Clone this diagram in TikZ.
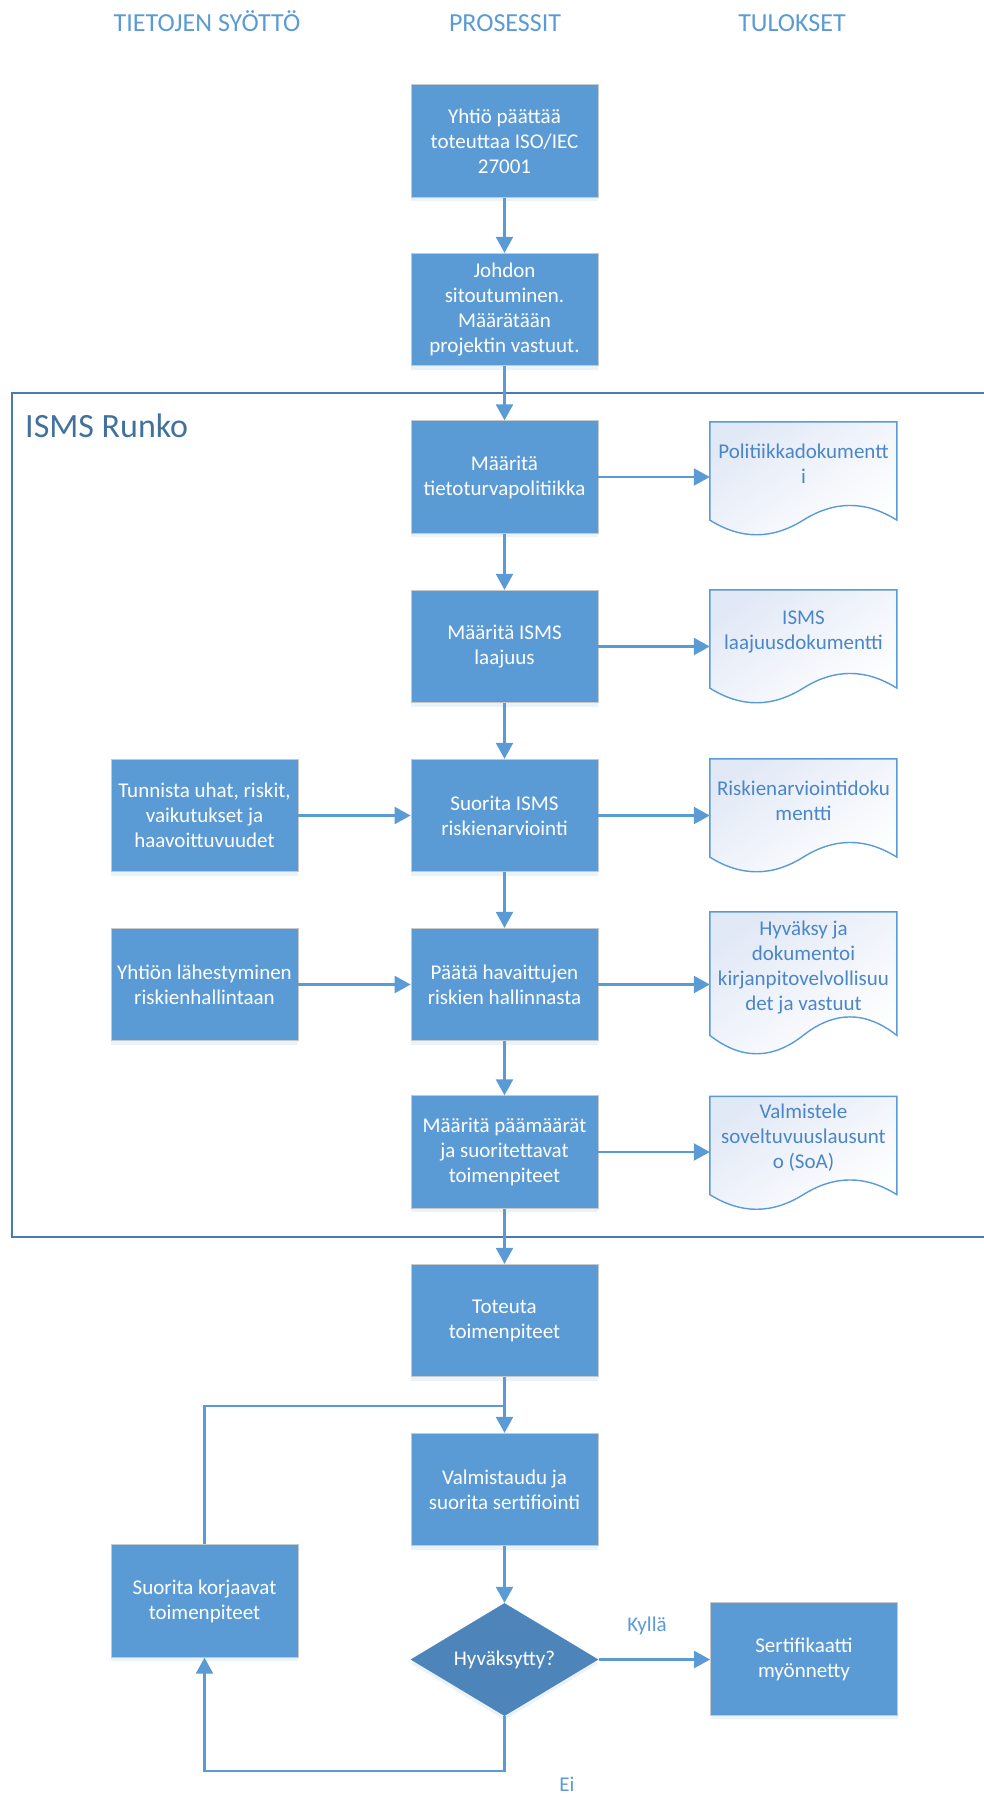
\documentclass[tikz,border=0pt]{standalone}
\usepackage{fontspec}
\setmainfont{Carlito}
\usetikzlibrary{arrows.meta,shapes.geometric,shadows,calc}
\definecolor{boxc}{HTML}{5B9BD5}
\definecolor{diac}{HTML}{4D85BB}
\definecolor{arrc}{HTML}{5B9BD5}
\definecolor{framec}{HTML}{4A7BB0}
\definecolor{runkoc}{HTML}{41719C}
\definecolor{headc}{HTML}{5B9BD5}
\definecolor{doctxt}{HTML}{4A86C8}
\definecolor{doctop}{HTML}{E2E9F6}
\definecolor{edgec}{HTML}{C8C8C8}
\newcommand\docpath[2]{%
  \path[docline] (#1.north west) -- ++(187,0) -- ++(0,{0.87*#2})
    .. controls +({-0.167*187},{-0.173*#2}) and +({0.167*187},{-0.173*#2}) .. ++({-0.5*187},0)
    .. controls +({-0.167*187},{0.173*#2}) and +({0.167*187},{0.173*#2}) .. ++({-0.5*187},0)
    -- cycle;}
\begin{document}
\begin{tikzpicture}[x=1pt,y=-1pt,
  procbox/.style={rectangle, fill=boxc, draw=edgec, line width=0.8pt,
    minimum width=187pt, minimum height=112.5pt, inner sep=0pt, text=white,
    align=center, font=\fontsize{21}{25}\selectfont,
    drop shadow={shadow xshift=0pt, shadow yshift=-4pt, opacity=0.12, fill=boxc}},
  decision/.style={diamond, fill=diac, aspect=1.664, minimum width=188pt,
    minimum height=113pt, inner sep=0pt, text=white, font=\fontsize{21}{25}\selectfont,
    drop shadow={shadow xshift=0pt, shadow yshift=-4pt, opacity=0.12, fill=boxc}},
  docbox/.style={rectangle, draw=none, minimum width=187pt, inner sep=0pt},
  docline/.style={draw=arrc, line width=1.4pt, top color=doctop, bottom color=white, shading angle=35},
  doctext/.style={text=doctxt, align=center, inner sep=0pt, font=\fontsize{21}{25}\selectfont},
  head/.style={text=headc, anchor=base, inner sep=0pt, font=\fontsize{26}{30}\selectfont},
  lbl/.style={text=arrc, inner sep=0pt, font=\fontsize{21}{25}\selectfont},
  conn/.style={draw=arrc, line width=2.3pt},
  arr/.style={conn, -{Triangle[length=16pt,width=17pt]}}
]
\useasboundingbox (0,0) rectangle (984,1795);

% headers
\node[head] (h1) at (207,32) {TIETOJEN SYÖTTÖ};
\node[head] (h2) at (505,32) {PROSESSIT};
\node[head] (h3) at (792,32) {TULOKSET};

% ISMS frame
\draw[framec, line width=2pt] (1010,393) -- (12,393) -- (12,1237) -- (1010,1237);
\node[anchor=base west, inner sep=0pt, text=runkoc, font=\fontsize{34}{40}\selectfont] (rk) at (25,437) {ISMS Runko};

% process column
\node[procbox] (b1) at (504.5,141) {Yhtiö päättää\\toteuttaa ISO/IEC\\27001};
\node[procbox] (b2) at (504.5,309.5) {Johdon\\sitoutuminen.\\Määrätään\\projektin vastuut.};
\node[procbox] (b3) at (504.5,477) {Määritä\\tietoturvapolitiikka};
\node[procbox] (b4) at (504.5,646.5) {Määritä ISMS\\laajuus};
\node[procbox] (b5) at (504.5,815.5) {Suorita ISMS\\riskienarviointi};
\node[procbox] (b6) at (504.5,984.5) {Päätä havaittujen\\riskien hallinnasta};
\node[procbox] (b7) at (504.5,1152) {Määritä päämäärät\\ja suoritettavat\\toimenpiteet};
\node[procbox] (b8) at (504.5,1320.5) {Toteuta\\toimenpiteet};
\node[procbox] (b9) at (504.5,1489.5) {Valmistaudu ja\\suorita sertifiointi};
\node[decision] (dia) at (504.5,1659.5) {Hyväksytty?};
\node[procbox] (cert) at (804,1659) {Sertifikaatti\\myönnetty};

% input column
\node[procbox] (l1) at (204.5,815.5) {Tunnista uhat, riskit,\\vaikutukset ja\\haavoittuvuudet};
\node[procbox] (l2) at (204.5,984.5) {Yhtiön lähestyminen\\riskienhallintaan};
\node[procbox] (l3) at (204.5,1601) {Suorita korjaavat\\toimenpiteet};

% documents
\node[docbox, minimum height=113pt] (d1) at (803.5,478.5) {};
\docpath{d1}{113}
\node[doctext] (t1) at ([yshift=15pt]d1.center) {Politiikkadokumentt\\i};
\node[docbox, minimum height=113pt] (d2) at (803.5,646.5) {};
\docpath{d2}{113}
\node[doctext] (t2) at ([yshift=15pt]d2.center) {ISMS\\laajuusdokumentti};
\node[docbox, minimum height=113pt] (d3) at (803.5,815.5) {};
\docpath{d3}{113}
\node[doctext] (t3) at ([yshift=15pt]d3.center) {Riskienarviointidoku\\mentti};
\node[docbox, minimum height=142pt] (d4) at (803.5,983) {};
\docpath{d4}{142}
\node[doctext] (t4) at ([yshift=15.5pt]d4.center) {Hyväksy ja\\dokumentoi\\kirjanpitovelvollisuu\\det ja vastuut};
\node[docbox, minimum height=113pt] (d5) at (803.5,1153) {};
\docpath{d5}{113}
\node[doctext] (t5) at ([yshift=15pt]d5.center) {Valmistele\\soveltuvuuslausunt\\o (SoA)};

% labels
\node[lbl] (kyl) at (647,1626) {Kyllä};
\node[lbl, anchor=base] (ei) at (567,1791) {Ei};

% connectors
\coordinate (jn) at (504.5,1406);
\coordinate (lb) at (504.5,1771);
\draw[conn] (l3.north) |- (jn);
\draw[arr] (b1) -- (b2);
\draw[arr] (b2) -- (b3);
\draw[arr] (b3) -- (b4);
\draw[arr] (b4) -- (b5);
\draw[arr] (b5) -- (b6);
\draw[arr] (b6) -- (b7);
\draw[arr] (b7) -- (b8);
\draw[arr] (b8) -- (b9);
\draw[arr] (b9) -- (dia);
\draw[arr] (b3.east) -- (b3.east -| d1.west);
\draw[arr] (b4.east) -- (b4.east -| d2.west);
\draw[arr] (b5.east) -- (b5.east -| d3.west);
\draw[arr] (b6.east) -- (b6.east -| d4.west);
\draw[arr] (b7.east) -- (b7.east -| d5.west);
\draw[arr] (l1) -- (b5);
\draw[arr] (l2) -- (b6);
\draw[arr] (dia.east) -- (dia.east -| cert.west);
\draw[arr] (dia.south) -- (dia.south |- lb) -| (l3.south);
\end{tikzpicture}
\end{document}
